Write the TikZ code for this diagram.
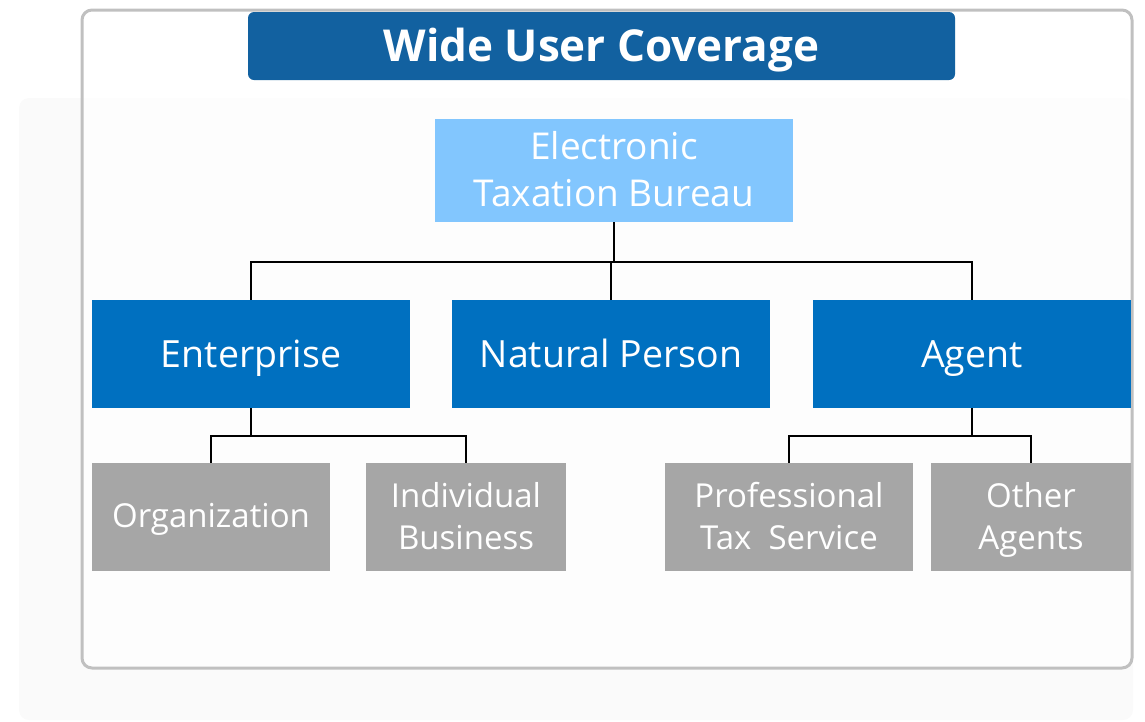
\documentclass[tikz,border=0pt]{standalone}
\usepackage{fontspec}
\setmainfont{Open Sans}
\usetikzlibrary{positioning,calc}
\definecolor{titleblue}{HTML}{1261A0}
\definecolor{rootblue}{HTML}{82C6FE}
\definecolor{midblue}{HTML}{0070C0}
\definecolor{leafgray}{HTML}{A6A6A6}
\definecolor{framegray}{HTML}{C0C0C0}
\tikzset{
    title/.style={
        rectangle,
        rounded corners=6pt,
        fill=titleblue,
        text=white,
        minimum width=707pt,
        minimum height=68pt,
        text height=34pt,
        text depth=3pt,
        font=\fontsize{44}{50}\bfseries\selectfont,
    },
    root/.style={
        rectangle,
        fill=rootblue,
        text=white,
        align=center,
        minimum width=358pt,
        minimum height=103pt,
        text depth=3pt,
        font=\fontsize{37}{47}\selectfont,
    },
    user/.style={
        rectangle,
        fill=midblue,
        text=white,
        minimum width=318pt,
        minimum height=108pt,
        text height=30pt,
        text depth=3pt,
        font=\fontsize{37.5}{44}\selectfont,
    },
    leaf/.style={
        rectangle,
        fill=leafgray,
        text=white,
        align=center,
        minimum height=108pt,
        text depth=2.5pt,
        font=\fontsize{33}{42}\selectfont,
    },
    link/.style={
        draw=black,
        line width=1.6pt,
    },
}

\begin{document}
\begin{tikzpicture}[x=1pt,y=-1pt]
                \useasboundingbox (0,0) rectangle (1145,721);

                % frames
                \fill[black!2, rounded corners=10pt] (19,98) rectangle (1133,720);
                \draw[framegray, line width=3pt, fill=white, fill opacity=0.7, rounded corners=10pt] (82,10) rectangle (1132,668);

                \node [title] (T) at (601.5,46) {Wide User Coverage};

                \node [root] (ETB) at (614,170.5) {Electronic\\Taxation Bureau};

                \node [user] (ENT) at (251,354) {Enterprise};
                \node [user] (NP) at (611,354) {Natural Person};
                \node [user] (AG) at (972,354) {Agent};

                \node [leaf, minimum width=238pt] (ORG) at (211,517) {Organization};
                \node [leaf, minimum width=200pt] (IB) at (466,517) {Individual\\Business};
                \node [leaf, minimum width=248pt] (PTS) at (789,517) {Professional\\Tax~~Service};
                \node [leaf, minimum width=200pt] (OA) at (1031,517) {Other\\Agents};

                \coordinate (busA) at (614,262);
                \draw [link] (ETB.south) -- (busA);
                \draw [link] (ENT.north) |- (busA) -| (AG.north);
                \draw [link] (NP.north) -- (NP.north |- busA);

                \draw [link] (ENT.south) -- ++(0,28) coordinate (busB);
                \draw [link] (ORG.north) |- (busB) -| (IB.north);

                \draw [link] (AG.south) -- ++(0,28) coordinate (busC);
                \draw [link] (PTS.north) |- (busC) -| (OA.north);

            \end{tikzpicture}
\end{document}
